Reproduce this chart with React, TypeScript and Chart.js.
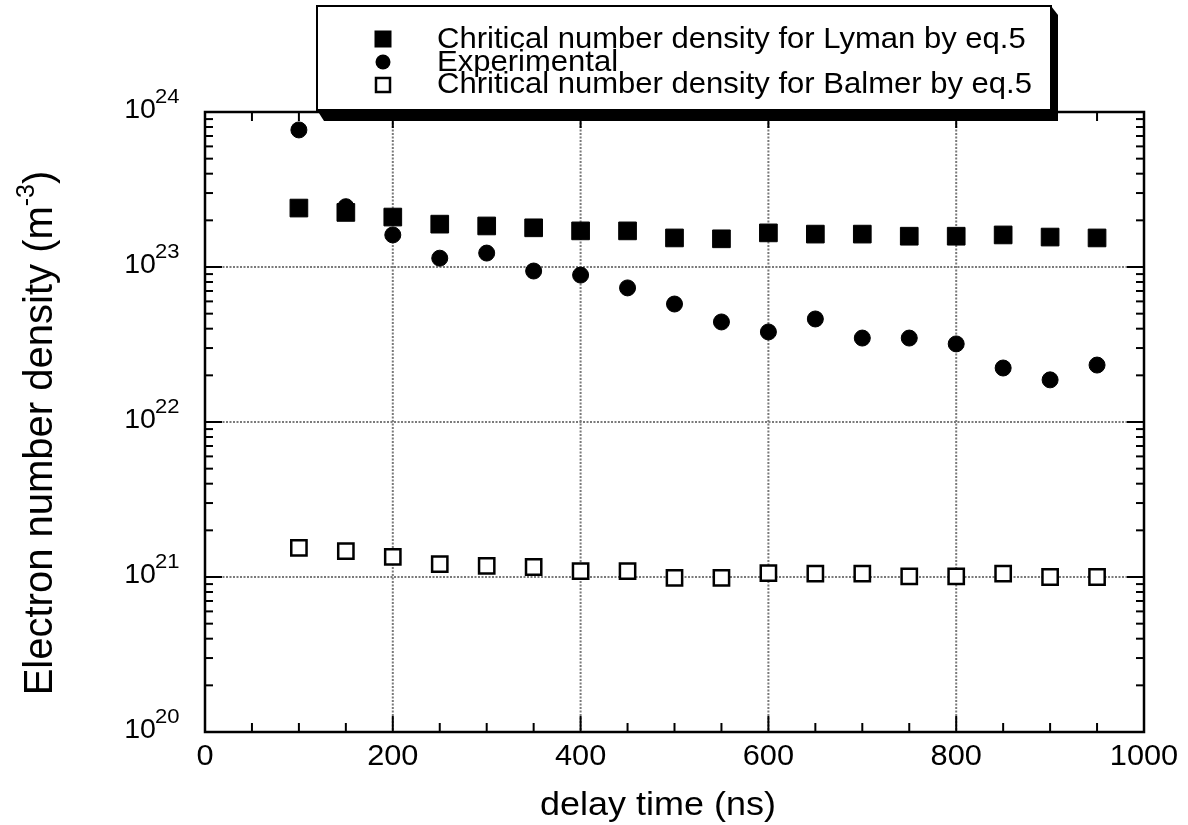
import React, { useEffect, useRef } from 'react';
import { Chart, registerables } from 'chart.js';

Chart.register(...registerables);

// ---------- data ----------
const delayTimes = [100, 150, 200, 250, 300, 350, 400, 450, 500, 550, 600, 650, 700, 750, 800, 850, 900, 950];
const lymanDensity = [2.4e23, 2.25e23, 2.1e23, 1.89e23, 1.84e23, 1.79e23, 1.71e23, 1.71e23, 1.54e23, 1.52e23, 1.66e23, 1.63e23, 1.63e23, 1.58e23, 1.58e23, 1.61e23, 1.56e23, 1.54e23];
const experimentalDensity = [7.66e23, 2.45e23, 1.61e23, 1.14e23, 1.23e23, 9.42e22, 8.87e22, 7.33e22, 5.77e22, 4.42e22, 3.81e22, 4.62e22, 3.48e22, 3.48e22, 3.19e22, 2.23e22, 1.87e22, 2.33e22];
const balmerDensity = [1.54e21, 1.47e21, 1.35e21, 1.21e21, 1.18e21, 1.16e21, 1.09e21, 1.09e21, 0.986e21, 0.986e21, 1.06e21, 1.05e21, 1.05e21, 1.01e21, 1.01e21, 1.05e21, 1.0e21, 1.0e21];

const seriesLabels = [
  'Chritical number density for Lyman by eq.5',
  'Experimental',
  'Chritical number density for Balmer by eq.5',
];

const xTickValues = [0, 200, 400, 600, 800, 1000];
const xTickLabels = ['0', '200', '400', '600', '800', '1000'];
const xMinorStep = 50;
const yTickExponents = [20, 21, 22, 23, 24];
const xGridValues = [200, 400, 600, 800];
const yGridExponents = [21, 22, 23];

const xTitle = 'delay time (ns)';
const yTitleMain = 'Electron number density (m';
const yTitleSup = '-3';
const yTitleEnd = ')';

const FONT = '"Liberation Sans", Arial, Helvetica, sans-serif';

function drawText(
  ctx: CanvasRenderingContext2D,
  s: string,
  x: number,
  y: number,
  size: number,
  align: CanvasTextAlign = 'left',
  sx = 1,
) {
  ctx.save();
  ctx.translate(x, y);
  ctx.scale(sx, 1);
  ctx.font = `${size}px ${FONT}`;
  ctx.textAlign = align;
  ctx.textBaseline = 'alphabetic';
  ctx.fillStyle = '#000';
  ctx.fillText(s, 0, 0);
  ctx.restore();
}

function seg(ctx: CanvasRenderingContext2D, x1: number, y1: number, x2: number, y2: number) {
  ctx.beginPath();
  ctx.moveTo(x1, y1);
  ctx.lineTo(x2, y2);
  ctx.stroke();
}

const customAxesPlugin = {
  id: 'customAxes',
  beforeDatasetsDraw(chart: any) {
    const { ctx, chartArea: a, scales } = chart;
    const xs = scales.x;
    const ys = scales.y;
    ctx.save();
    ctx.strokeStyle = '#7a7a7a';
    ctx.lineWidth = 2;
    ctx.setLineDash([2, 1.5]);
    for (const v of xGridValues) {
      const px = xs.getPixelForValue(v);
      seg(ctx, px, a.top, px, a.bottom);
    }
    for (const e of yGridExponents) {
      const py = ys.getPixelForValue(Math.pow(10, e));
      seg(ctx, a.left, py, a.right, py);
    }
    ctx.restore();
  },
  afterDatasetsDraw(chart: any) {
    const { ctx, chartArea: a, scales } = chart;
    const xs = scales.x;
    const ys = scales.y;
    ctx.save();
    ctx.strokeStyle = '#000';
    ctx.lineCap = 'butt';

    // ticks
    ctx.lineWidth = 2;
    for (let v = 0; v <= 1000; v += xMinorStep) {
      const px = xs.getPixelForValue(v);
      const major = v % 200 === 0;
      const len = major ? 16 : 9;
      seg(ctx, px, a.bottom, px, a.bottom - len);
      seg(ctx, px, a.top, px, a.top + len);
    }
    for (let e = yTickExponents[0]; e < yTickExponents[yTickExponents.length - 1]; e++) {
      for (let m = 1; m <= 9; m++) {
        const py = ys.getPixelForValue(m * Math.pow(10, e));
        const len = m === 1 ? 17 : 8;
        seg(ctx, a.left, py, a.left + len, py);
        seg(ctx, a.right, py, a.right - len, py);
      }
    }

    // frame
    ctx.lineWidth = 2.5;
    ctx.strokeRect(a.left, a.top, a.right - a.left, a.bottom - a.top);
    ctx.restore();

    // x tick labels
    xTickValues.forEach((v, i) => {
      const px = xs.getPixelForValue(v);
      drawText(ctx, xTickLabels[i], px, a.bottom + 33, 29, 'center', 1.06);
    });

    // y tick labels with superscript
    for (const e of yTickExponents) {
      const py = ys.getPixelForValue(Math.pow(10, e));
      drawText(ctx, '10', a.left - 49, py + 6, 28, 'right', 1.02);
      drawText(ctx, String(e), a.left - 50, py - 9, 21, 'left', 1.05);
    }

    // x title
    drawText(ctx, xTitle, 658, 815, 33, 'center', 1.09);

    // y title (rotated)
    ctx.save();
    const yFont = 40;
    ctx.font = `${yFont}px ${FONT}`;
    const wMain = ctx.measureText(yTitleMain).width;
    const supSize = Math.round(yFont * 0.62);
    ctx.font = `${supSize}px ${FONT}`;
    const wSup = ctx.measureText(yTitleSup).width;
    ctx.font = `${yFont}px ${FONT}`;
    const wEnd = ctx.measureText(yTitleEnd).width;
    const total = wMain + wSup + wEnd;
    ctx.translate(52, 433);
    ctx.rotate(-Math.PI / 2);
    let cx = -total / 2;
    drawText(ctx, yTitleMain, cx, 0, yFont, 'left');
    cx += wMain;
    drawText(ctx, yTitleSup, cx, -yFont * 0.45, supSize, 'left');
    cx += wSup;
    drawText(ctx, yTitleEnd, cx, 0, yFont, 'left');
    ctx.restore();

    // legend
    const L = 317, T = 6, R = 1051, B = 110;
    ctx.save();
    ctx.fillStyle = '#000';
    ctx.beginPath();
    ctx.moveTo(L, B);
    ctx.lineTo(L + 7, B + 11);
    ctx.lineTo(R + 7, B + 11);
    ctx.lineTo(R + 7, T + 9);
    ctx.lineTo(R, T);
    ctx.closePath();
    ctx.fill();
    ctx.fillStyle = '#fff';
    ctx.fillRect(L, T, R - L, B - T);
    ctx.strokeStyle = '#000';
    ctx.lineWidth = 2;
    ctx.strokeRect(L, T, R - L, B - T);

    const mx = 383;
    const baselines = [48, 71, 93];
    // Lyman: filled square
    ctx.fillStyle = '#000';
    ctx.fillRect(mx - 8.5, baselines[0] - 9 - 8.5, 17, 17);
    // Experimental: filled circle
    ctx.beginPath();
    ctx.arc(mx, baselines[1] - 9, 7.5, 0, Math.PI * 2);
    ctx.fill();
    // Balmer: open square
    ctx.fillStyle = '#fff';
    ctx.lineWidth = 2.5;
    ctx.fillRect(mx - 7, baselines[2] - 8 - 7, 14, 14);
    ctx.strokeRect(mx - 7, baselines[2] - 8 - 7, 14, 14);
    ctx.restore();

    const labels = chart.data.datasets.map((d: any) => d.label);
    labels.forEach((lab: string, i: number) => {
      drawText(ctx, lab, 437, baselines[i], 29, 'left', 1.07);
    });
  },
};

export default function App() {
  const ref = useRef<HTMLCanvasElement | null>(null);

  useEffect(() => {
    if (!ref.current) return;
    const toPts = (ys: number[]) => delayTimes.map((x, i) => ({ x, y: ys[i] }));
    const chart = new Chart(ref.current, {
      type: 'scatter',
      data: {
        datasets: [
          {
            label: seriesLabels[0],
            data: toPts(lymanDensity),
            pointStyle: 'rect',
            pointRadius: 12.5,
            backgroundColor: '#000',
            borderColor: '#000',
            borderWidth: 1,
          },
          {
            label: seriesLabels[1],
            data: toPts(experimentalDensity),
            pointStyle: 'circle',
            pointRadius: 8,
            backgroundColor: '#000',
            borderColor: '#000',
            borderWidth: 1,
          },
          {
            label: seriesLabels[2],
            data: toPts(balmerDensity),
            pointStyle: 'rect',
            pointRadius: 10.8,
            backgroundColor: '#fff',
            borderColor: '#000',
            borderWidth: 2.5,
          },
        ],
      },
      options: {
        responsive: false,
        animation: false,
        devicePixelRatio: 1,
        layout: { padding: { left: 205, right: 44, top: 112, bottom: 93 } },
        plugins: {
          legend: { display: false },
          tooltip: { enabled: false },
        },
        scales: {
          x: { type: 'linear', min: 0, max: 1000, display: false },
          y: { type: 'logarithmic', min: 1e20, max: 1e24, display: false },
        },
      },
      plugins: [customAxesPlugin],
    });
    return () => chart.destroy();
  }, []);

  return (
    <div style={{ position: 'absolute', left: 0, top: 0, width: 1188, height: 825, background: '#fff' }}>
      <canvas ref={ref} width={1188} height={825} style={{ display: 'block' }} />
    </div>
  );
}
